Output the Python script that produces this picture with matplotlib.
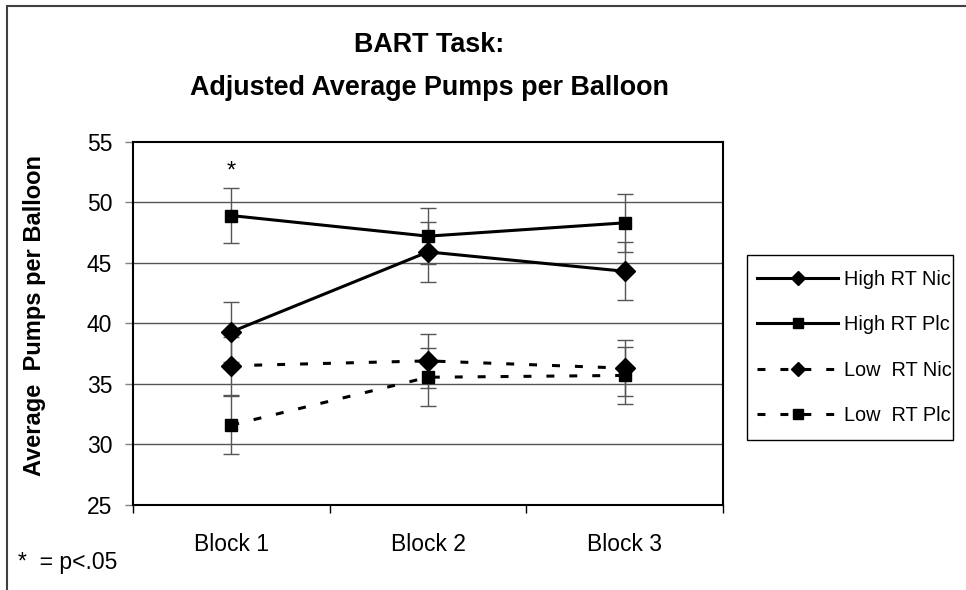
import matplotlib
matplotlib.use("Agg")
import matplotlib.pyplot as plt
from matplotlib.patches import Rectangle
from matplotlib.lines import Line2D

plt.rcParams['font.family'] = ['Liberation Sans', 'DejaVu Sans']

# Data
blocks = ["Block 1", "Block 2", "Block 3"]
high_nic = [39.3, 45.9, 44.3]
high_nic_err = [2.5, 2.45, 2.4]
high_plc = [48.9, 47.2, 48.3]
high_plc_err = [2.3, 2.3, 2.4]
low_nic = [36.5, 36.9, 36.3]
low_nic_err = [2.4, 2.2, 2.3]
low_plc = [31.6, 35.55, 35.7]
low_plc_err = [2.4, 2.4, 2.35]
series_names = ["High RT Nic", "High RT Plc", "Low  RT Nic", "Low  RT Plc"]

W, H = 966, 590
fig = plt.figure(figsize=(W / 100, H / 100), dpi=100)

# chart frame (only left and top edges visible)
fig.patches.append(Rectangle((7 / W, -0.1), 1.2, 1 - 6 / H + 0.1, transform=fig.transFigure,
                             fill=False, edgecolor="#404040", lw=1.5))

ax = fig.add_axes([133 / W, 1 - 505 / H, 590 / W, (505 - 141.7) / H])
x = list(range(len(blocks)))

dash = (0, (2.6, 4.9))
styles = [
    (high_nic, high_nic_err, "-", "D", 10),
    (high_plc, high_plc_err, "-", "s", 9),
    (low_nic, low_nic_err, dash, "D", 10),
    (low_plc, low_plc_err, dash, "s", 9),
]

# error bars first, lines and markers on top
for vals, errs, ls, mk, ms in styles:
    ax.errorbar(x, vals, yerr=errs, fmt="none", ecolor="#555555", elinewidth=1,
                capsize=6, capthick=1, zorder=3)
for vals, errs, ls, mk, ms in styles:
    ax.plot(x, vals, color="black", lw=2.2, linestyle=ls, marker=mk, markersize=ms,
            zorder=4)

ax.set_xlim(-0.5, 2.5)
ax.set_ylim(25, 55)
ax.set_yticks(range(25, 56, 5))
ax.set_xticks(x)
ax.set_xticklabels(blocks, fontsize=16.5)
ax.set_xticks([-0.5, 0.5, 1.5, 2.5], minor=True)
ax.tick_params(axis="x", which="major", length=0, pad=20)
ax.tick_params(axis="x", which="minor", length=6, width=1)
ax.tick_params(axis="y", length=6, width=1, color="#808080", labelsize=16.5, pad=9)

for yv in range(30, 55, 5):
    ax.axhline(yv, color="#555555", lw=1, zorder=1)

for s in ax.spines.values():
    s.set_linewidth(1.5)
    s.set_color("black")

fig.text(35 / W, 1 - 316 / H, "Average  Pumps per Balloon", rotation=90, ha="center",
         va="center", fontsize=17, fontweight="bold")

fig.text(429 / W, 1 - 45 / H, "BART Task:", ha="center", va="center",
         fontsize=19.4, fontweight="bold")
fig.text(429 / W, 1 - 88 / H, "Adjusted Average Pumps per Balloon", ha="center",
         va="center", fontsize=19.4, fontweight="bold")

ax.text(0, 52.5, "*", ha="center", va="center", fontsize=17)
fig.text(18 / W, 1 - 563 / H, "*  = p<.05", ha="left", va="center", fontsize=16.5)

# legend: entries without frame, box drawn separately
handles = [Line2D([], [], color="black", lw=2.2, linestyle=ls, marker=mk, markersize=ms * 0.75)
           for vals, errs, ls, mk, ms in styles]
fig.legend(handles, series_names, loc="upper left",
           bbox_to_anchor=(757 / W, 1 - 270 / H), fontsize=14.3,
           handlelength=4.1, handletextpad=0.3, labelspacing=1.33,
           borderpad=0, borderaxespad=0, frameon=False)
fig.patches.append(Rectangle((747 / W, 1 - 440 / H), 206 / W, 185 / H,
                             transform=fig.transFigure, fill=False,
                             edgecolor="black", lw=1))

fig.savefig("out.png", dpi=100)
